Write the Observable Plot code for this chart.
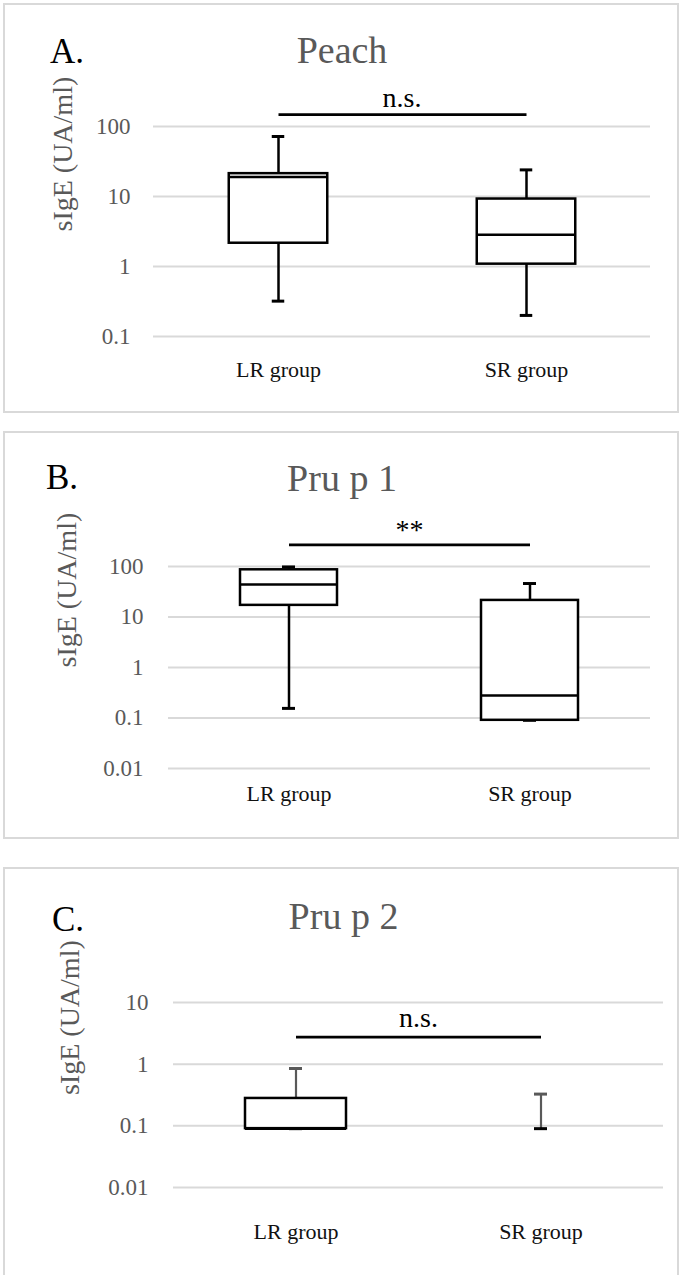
<!DOCTYPE html>
<html>
<head>
<meta charset="utf-8">
<script src="https://cdn.jsdelivr.net/npm/d3@7"></script>
<script src="https://cdn.jsdelivr.net/npm/@observablehq/plot@0.6"></script>
<style>
html, body { margin: 0; padding: 0; background: #fff; }
#page { position: relative; width: 682px; height: 1275px; overflow: hidden; background: #fff;
  font-family: "Liberation Serif", "Times New Roman", serif; }
#page svg, #page svg text { font-family: "Liberation Serif", "Times New Roman", serif !important; }
.panel { position: absolute; border: 2px solid #d9d9d9; box-sizing: border-box; }
.letter { position: absolute; font-size: 35px; line-height: 1; color: #000; white-space: nowrap; }
.title { position: absolute; width: 300px; text-align: center; font-size: 38px; line-height: 1; color: #595959; white-space: nowrap; }
</style>
</head>
<body>
<div id="page"></div>
<script>
// ---------------- data ----------------
const groups = ["LR group", "SR group"];
const panelLetters = ["A.", "B.", "C."];
const panelTitles = ["Peach", "Pru p 1", "Pru p 2"];
const yTitle = "sIgE (UA/ml)";

// y tick values / labels per panel
const ticksA = [0.1, 1, 10, 100];
const tickLabelsA = ["0.1", "1", "10", "100"];
const ticksB = [0.01, 0.1, 1, 10, 100];
const tickLabelsB = ["0.01", "0.1", "1", "10", "100"];
const ticksC = [0.01, 0.1, 1, 10];
const tickLabelsC = ["0.01", "0.1", "1", "10"];

// box-plot statistics [LR, SR]
const minA = [0.32, 0.2];
const q1A = [2.15, 1.08];
const medA = [19, 2.85];
const q3A = [21.2, 9.2];
const maxA = [72, 24];

const minB = [0.155, 0.09];
const q1B = [17, 0.09];
const medB = [44, 0.28];
const q3B = [86, 21.3];
const maxB = [98, 46];

const minC = [0.09, 0.09];
const q1C = [0.09, 0.09];
const medC = [0.09, 0.09];
const q3C = [0.278, 0.09];
const maxC = [0.85, 0.327];

// significance annotations
const sigLabels = ["n.s.", "**", "n.s."];
const sigLevels = [148, 268, 2.74];

// ---------------- layout (styles only) ----------------
const layouts = [
  { boxTop: 3, boxH: 410, svgTop: 3, svgH: 410, mL: 153, mR: 32, mT: 123, mB: 77,
    domain: [0.1, 100], ticks: ticksA, tickLabels: tickLabelsA,
    boxInset: 74.75, capInset: 117.75, whisker: "#000", whiskerW: 2.5,
    tickDx: -23, titleDx: -90, xLabelDy: 40, sigDy: -8,
    letter: [50, 33.5], title: [342, 31.2],
    stats: [minA, q1A, medA, q3A, maxA] },
  { boxTop: 431, boxH: 408, svgTop: 431, svgH: 408, mL: 168, mR: 32, mT: 135, mB: 71,
    domain: [0.01, 100], ticks: ticksB, tickLabels: tickLabelsB,
    boxInset: 72, capInset: 114, whisker: "#000", whiskerW: 2.5,
    tickDx: -25, titleDx: -101, xLabelDy: 32, sigDy: -6,
    letter: [46, 459.5], title: [342, 459.2],
    stats: [minB, q1B, medB, q3B, maxB] },
  { boxTop: 867, boxH: 460, svgTop: 867, svgH: 408, mL: 173, mR: 19, mT: 135, mB: 88,
    domain: [0.01, 10], ticks: ticksC, tickLabels: tickLabelsC,
    boxInset: 72, capInset: 116, whisker: "#595959", whiskerW: 2.2,
    tickDx: -25, titleDx: -103.5, xLabelDy: 51, sigDy: -10,
    letter: [52, 901.5], title: [343.5, 897.2],
    stats: [minC, q1C, medC, q3C, maxC] }
];

const page = document.getElementById("page");
const SERIF = "Liberation Serif, Times New Roman, serif";

layouts.forEach((L, k) => {
  const border = document.createElement("div");
  border.className = "panel";
  Object.assign(border.style, { left: "3px", top: L.boxTop + "px", width: "676px", height: L.boxH + "px" });
  page.appendChild(border);

  const [mn, q1, md, q3, mx] = L.stats;
  const rows = groups.map((g, i) => ({ g, min: mn[i], q1: q1[i], med: md[i], q3: q3[i], max: mx[i] }));
  const boxes = rows.filter(r => r.q3 > r.q1);
  const ticks = L.ticks.map((v, i) => ({ v, label: L.tickLabels[i] }));
  const sig = [{ from: groups[0], to: groups[1], y: sigLevels[k], label: sigLabels[k] }];

  const chart = Plot.plot({
    width: 682,
    height: L.svgH,
    marginLeft: L.mL, marginRight: L.mR, marginTop: L.mT, marginBottom: L.mB,
    style: { background: "transparent", overflow: "visible", fontFamily: SERIF },
    x: { domain: groups, padding: 0, axis: null },
    y: { type: "log", domain: L.domain, axis: null },
    marks: [
      Plot.ruleY(ticks, { y: "v", stroke: "#d9d9d9", strokeWidth: 2 }),
      Plot.text(ticks, { y: "v", text: "label", frameAnchor: "left", textAnchor: "end", dx: L.tickDx,
        fill: "#595959", fontSize: 23, fontFamily: SERIF }),
      Plot.text([yTitle], { frameAnchor: "left", rotate: -90, dx: L.titleDx, text: d => d,
        fill: "#595959", fontSize: 28, fontFamily: SERIF }),
      Plot.ruleX(rows, { x: "g", y1: "q3", y2: "max", stroke: L.whisker, strokeWidth: L.whiskerW }),
      Plot.ruleX(rows, { x: "g", y1: "min", y2: "q1", stroke: L.whisker, strokeWidth: L.whiskerW }),
      Plot.tickY(rows, { x: "g", y: "max", insetLeft: L.capInset, insetRight: L.capInset, stroke: L.whisker, strokeWidth: 3 }),
      Plot.tickY(rows, { x: "g", y: "min", insetLeft: L.capInset, insetRight: L.capInset, stroke: "#000", strokeWidth: 3 }),
      Plot.barY(boxes, { x: "g", y1: "q1", y2: "q3", insetLeft: L.boxInset, insetRight: L.boxInset,
        fill: "#fff", stroke: "#000", strokeWidth: 2.5 }),
      Plot.tickY(boxes, { x: "g", y: "med", insetLeft: L.boxInset, insetRight: L.boxInset, stroke: "#000", strokeWidth: 2.5 }),
      Plot.text(groups, { x: d => d, text: d => d, frameAnchor: "bottom", lineAnchor: "bottom", dy: L.xLabelDy,
        fill: "#111", fontSize: 22, fontFamily: SERIF }),
      Plot.link(sig, { x1: "from", x2: "to", y1: "y", y2: "y", stroke: "#000", strokeWidth: 2.75 }),
      Plot.text(sig, { y: "y", text: "label", lineAnchor: "bottom", dy: L.sigDy,
        fill: "#000", fontSize: 28, fontFamily: SERIF })
    ]
  });
  chart.style.position = "absolute";
  chart.style.top = L.svgTop + "px";
  chart.style.left = "0px";
  page.appendChild(chart);

  const letter = document.createElement("div");
  letter.className = "letter";
  letter.textContent = panelLetters[k];
  letter.style.left = L.letter[0] + "px";
  letter.style.top = L.letter[1] + "px";
  page.appendChild(letter);

  const title = document.createElement("div");
  title.className = "title";
  title.textContent = panelTitles[k];
  title.style.left = (L.title[0] - 150) + "px";
  title.style.top = L.title[1] + "px";
  page.appendChild(title);
});
</script>
</body>
</html>
